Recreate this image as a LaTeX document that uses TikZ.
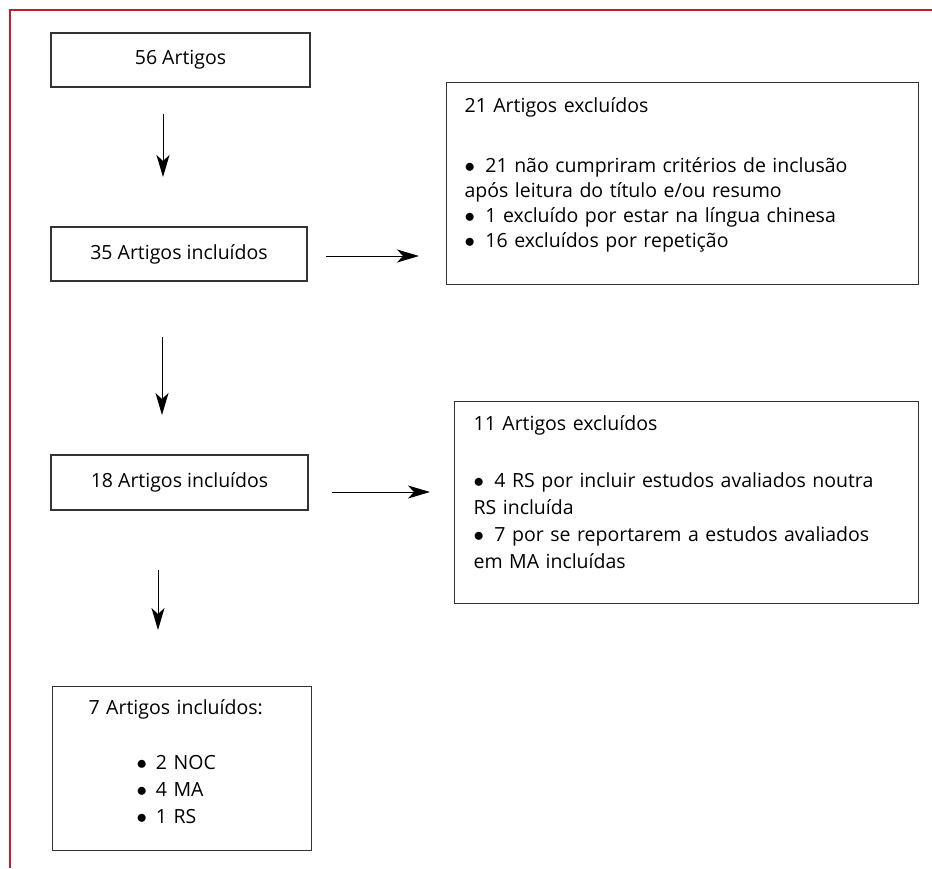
\documentclass[tikz,border=0pt]{standalone}
\usepackage{fontspec}
\setmainfont{Open Sans}
\usetikzlibrary{arrows.meta}

\definecolor{framered}{RGB}{190,30,45}
\newcommand{\bul}[1][10.5pt]{$\bullet$\hspace{#1}}

\begin{document}
\begin{tikzpicture}[x=1pt,y=-1pt,
  box/.style={draw=black!80,line width=1.2pt,inner sep=0pt,
    font=\fontsize{19.5}{27}\selectfont},
  arr/.style={line width=1pt,-{Stealth[length=22pt,width=13pt,inset=6pt]}}]
  \useasboundingbox (0,0) rectangle (932,868);
  \draw[framered,line width=1.5pt] (932,10) -- (10,10) -- (10,868);

  \node[box,minimum width=259pt,minimum height=54pt] (all) at (180.5,60) {56 Artigos};
  \node[box,minimum width=256pt,minimum height=54pt] (incl1) at (179,254) {35 Artigos incluídos};
  \node[box,minimum width=257pt,minimum height=55pt] (incl2) at (179.5,482.5) {18 Artigos incluídos};
  \node[box,anchor=north west,minimum width=259pt,minimum height=164pt,
    text width=187pt,align=left,inner xsep=36pt] (final) at (52,686)
    {7 Artigos incluídos:\\[28pt]
     \hspace*{48pt}\bul[9pt]2 NOC\\
     \hspace*{48pt}\bul[9pt]4 MA\\
     \hspace*{48pt}\bul[9pt]1 RS\\[-13.5pt]\mbox{}};

  \node[box,anchor=north west,minimum width=472pt,minimum height=202pt,
    text width=436pt,align=left,inner xsep=17pt,
    font=\fontsize{19.5}{25}\selectfont] (excl1) at (446,82)
    {21 Artigos excluídos\\[35pt]
     \bul 21 não cumpriram critérios de inclusão\\
     após leitura do título e/ou resumo\\
     \bul 1 excluído por estar na língua chinesa\\
     \bul 16 excluídos por repetição\\[-2.5pt]\mbox{}};
  \node[box,anchor=north west,minimum width=464pt,minimum height=202pt,
    text width=426pt,align=left,inner xsep=19pt] (excl2) at (454,401)
    {11 Artigos excluídos\\[30pt]
     \bul 4 RS por incluir estudos avaliados noutra\\
     RS incluída\\
     \bul 7 por se reportarem a estudos avaliados\\
     em MA incluídas\\[-5.5pt]\mbox{}};

  \coordinate (a1s) at (163,114);
  \coordinate (a1e) at (163,177);
  \coordinate (a2s) at (162,337);
  \coordinate (a2e) at (162,415);
  \coordinate (a3s) at (158,570);
  \coordinate (a3e) at (158,630);
  \coordinate (r1s) at (326,256);
  \coordinate (r1e) at (419,256);
  \coordinate (r2s) at (332,492);
  \coordinate (r2e) at (430,492);

  \draw[arr] (a1s) -- (a1e);
  \draw[arr] (a2s) -- (a2e);
  \draw[arr] (a3s) -- (a3e);
  \draw[arr] (r1s) -- (r1e);
  \draw[arr] (r2s) -- (r2e);
\end{tikzpicture}
\end{document}
